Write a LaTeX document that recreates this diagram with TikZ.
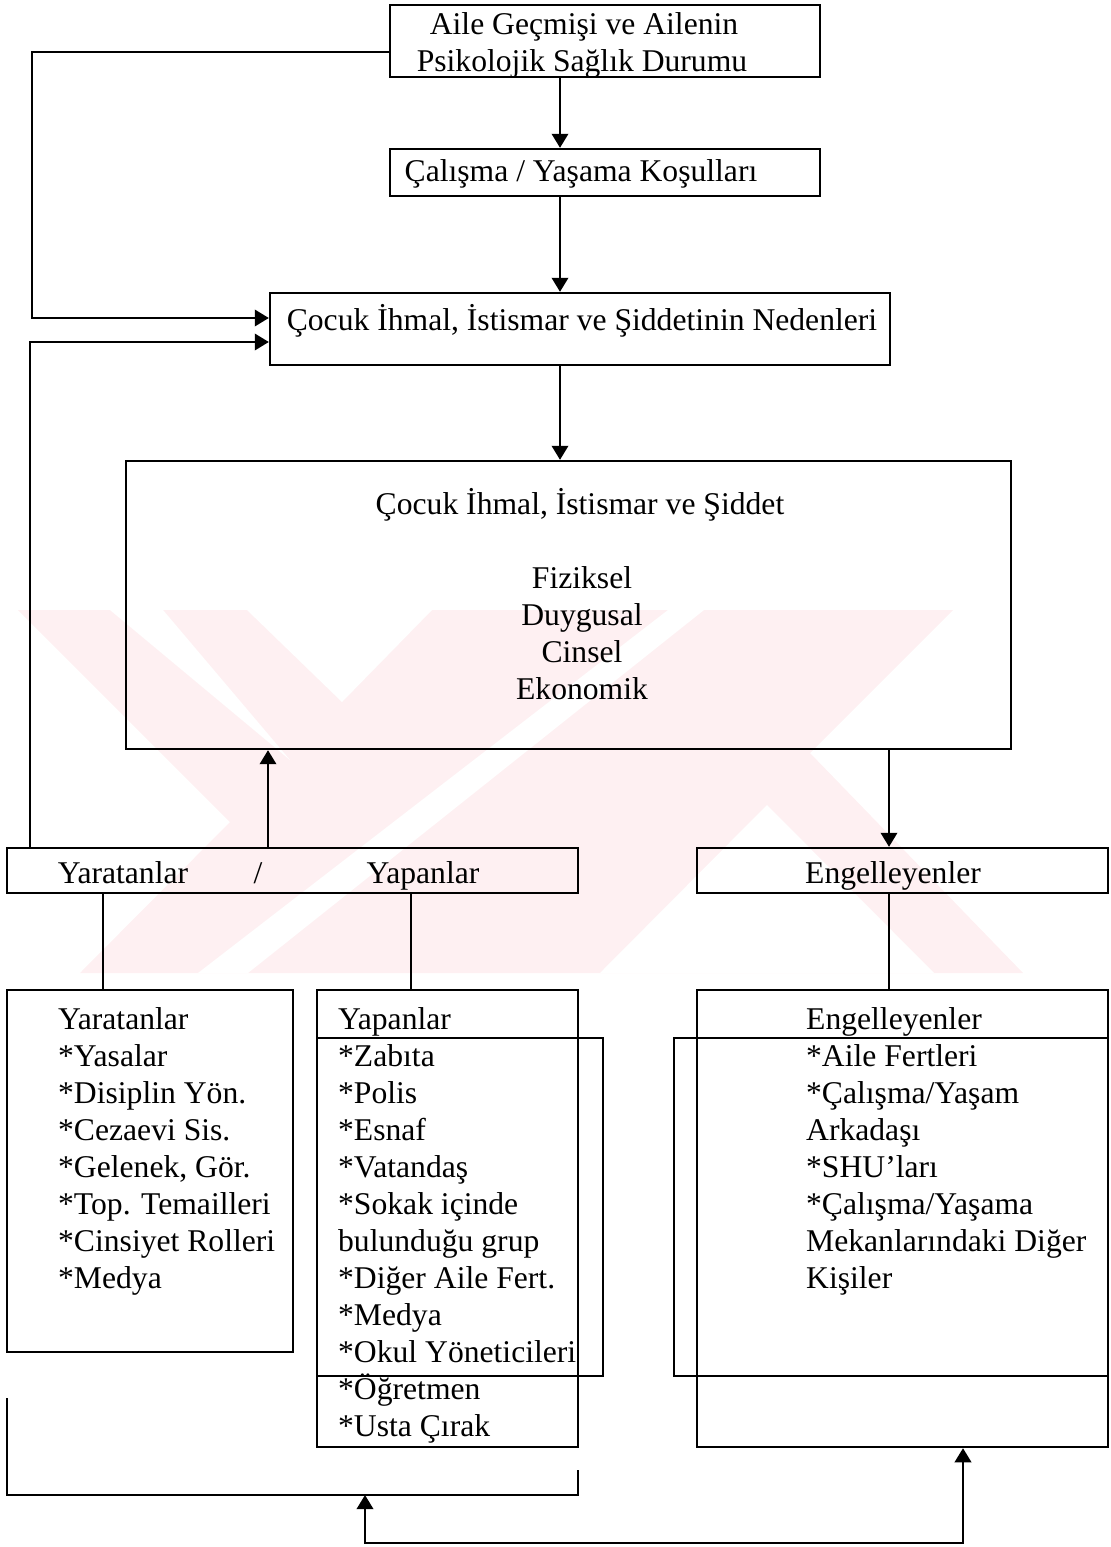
\documentclass[tikz,border=0pt]{standalone}
\usepackage{fontspec}
\setmainfont{Liberation Serif}
\usetikzlibrary{arrows.meta,fit}
\definecolor{wmpink}{RGB}{254,240,242}
\begin{document}
\begin{tikzpicture}[x=0.015cm, y=-0.015cm, line width=1pt, font=\fontsize{13.5}{15.7}\selectfont, >={Triangle[length=6pt,width=7pt]}]
	\tikzset{box/.style={draw, inner sep=0pt},
		txt/.style={anchor=base, inner sep=0pt},
		item/.style={anchor=base west, inner sep=0pt}}
	\useasboundingbox (0,0) rectangle (1110,1547);
	% watermark
	\fill[wmpink] (18,610) -- (953,610) -- (810,753) -- (1023,973) -- (80,973) -- (230,822) -- cycle;
	\fill[white] (110,610) -- (163,610) -- (290,760) -- cycle;
	\fill[white] (247,610) -- (432,610) -- (342,702) -- cycle;
	\fill[white] (668,610) -- (704,610) -- (248,973) -- (198,973) -- cycle;
	\fill[white] (600,973) -- (767,805) -- (934,973) -- cycle;
	% boxes
	\node[box, fit={(390,5) (820,77)}] (aile) {};
	\node[box, fit={(390,149) (820,196)}] (calisma) {};
	\node[box, fit={(270,293) (890,365)}] (neden) {};
	\node[box, fit={(126,461) (1011,749)}] (tur) {};
	\node[box, fit={(7,848) (578,893)}] (yy) {};
	\node[box, fit={(697,848) (1108,893)}] (eng) {};
	\node[box, fit={(7,990) (293,1352)}] (yarat) {};
	\node[box, fit={(317,990) (578,1447)}] (yapan) {};
	\node[box, fit={(317,1038) (603,1376)}] (yapanIc) {};
	\node[box, fit={(697,990) (1108,1447)}] (engel) {};
	\node[box, fit={(674,1038) (1108,1376)}] (engelIc) {};
	% texts
	\node[txt] (aile-1) at (584,35) {Aile Geçmişi ve Ailenin};
	\node[txt] (aile-2) at (582,72) {Psikolojik Sağlık Durumu};
	\node[txt] (calisma-t) at (581,182) {Çalışma / Yaşama Koşulları};
	\node[txt] (neden-t) at (582,330) {Çocuk İhmal, İstismar ve Şiddetinin Nedenleri};
	\node[txt] (tur-0) at (580,514) {Çocuk İhmal, İstismar ve Şiddet};
	\foreach \w [count=\i] in {Fiziksel, Duygusal, Cinsel, Ekonomik}
		\node[txt] (tur-\i) at (582,{551+\i*37}) {\w};
	\node[txt] (yy-1) at (123,883) {Yaratanlar};
	\node[txt] (yy-2) at (258,883) {/};
	\node[txt] (yy-3) at (423,883) {Yapanlar};
	\node[txt] (eng-t) at (893,883) {Engelleyenler};
	\foreach \w [count=\i from 0] in {Yaratanlar, *Yasalar, *Disiplin Yön., *Cezaevi Sis., {*Gelenek, Gör.}, *Top. Temailleri, *Cinsiyet Rolleri, *Medya}
		\node[item] (yarat-\i) at (57,{1029+\i*37}) {\w};
	\foreach \w [count=\i from 0] in {Yapanlar, *Zabıta, *Polis, *Esnaf, *Vatandaş, *Sokak içinde, bulunduğu grup, *Diğer Aile Fert., *Medya, *Okul Yöneticileri, *Öğretmen, *Usta Çırak}
		\node[item] (yapan-\i) at (337,{1029+\i*37}) {\w};
	\foreach \w [count=\i from 0] in {Engelleyenler, *Aile Fertleri, *Çalışma/Yaşam, Arkadaşı, *SHU’ları, *Çalışma/Yaşama, Mekanlarındaki Diğer, Kişiler}
		\node[item] (engel-\i) at (805,{1029+\i*37}) {\w};
	% connectors
	\draw[->] (aile.south -| 560,0) -- (calisma.north -| 560,0);
	\draw[->] (calisma.south -| 560,0) -- (neden.north -| 560,0);
	\draw[->] (aile.west |- 0,52) -- (32,52) |- (neden.west |- 0,318);
	\draw[->] (yy.north -| 30,0) |- (neden.west |- 0,342);
	\draw[->] (neden.south -| 560,0) -- (tur.north -| 560,0);
	\draw[->] (yy.north -| 268,0) -- (tur.south -| 268,0);
	\draw[->] (tur.south -| 889,0) -- (eng.north -| 889,0);
	\draw (yy.south -| 103,0) -- (yarat.north -| 103,0);
	\draw (yy.south -| 411,0) -- (yapan.north -| 411,0);
	\draw (eng.south -| 889,0) -- (engel.north -| 889,0);
	% bottom bracket
	\coordinate (brL) at (7,1398);
	\coordinate (brR) at (578,1470);
	\coordinate (brM) at (365,1495);
	\draw (brL) |- (brR |- brM) -- (brR);
	\draw[<->] (brM) -- (365,1543) -| (engel.south -| 963,0);
\end{tikzpicture}
\end{document}
